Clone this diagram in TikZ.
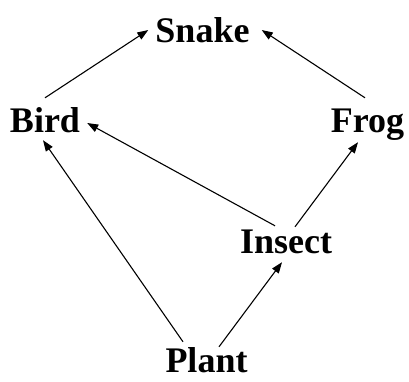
\documentclass[tikz,border=0pt]{standalone}
\usepackage{fontspec}
\setmainfont{Liberation Serif}
\usetikzlibrary{arrows.meta}
\begin{document}
\begin{tikzpicture}[x=1pt,y=-1pt,
  lbl/.style={font=\fontsize{36}{40}\selectfont\bfseries, inner sep=3pt, text height=24pt, text depth=8pt, anchor=base},
  edge/.style={-{Triangle[length=11pt,width=8pt]}, line width=1.1pt}]
\useasboundingbox (0,0) rectangle (409,381);
\node[lbl] (snake)  at (202.5,42) {Snake};
\node[lbl] (bird)   at (45,132)   {Bird};
\node[lbl] (frog)   at (367.5,132) {Frog};
\node[lbl] (insect) at (286,253)  {Insect};
\node[lbl, text depth=0pt, inner ysep=1pt] (plant)  at (206.5,372) {Plant};
\draw[edge] ([yshift=7pt]bird.north) -- ([shift={(-4pt,4pt)}]snake.west);
\draw[edge] ([shift={(-2.5pt,7pt)}]frog.north) -- ([shift={(9pt,4pt)}]snake.east);
\draw[edge] ([xshift=-11pt]insect.north) -- ([shift={(4pt,1pt)}]bird.east);
\draw[edge] ([shift={(9pt,-1pt)}]insect.north) -- ([shift={(-9.5pt,1pt)}]frog.south);
\draw[edge] ([shift={(-23.5pt,5pt)}]plant.north) -- ([shift={(-2pt,3pt)}]bird.south);
\draw[edge] ([shift={(12.5pt,0pt)}]plant.north) -- ([shift={(-4pt,2pt)}]insect.south);
\end{tikzpicture}
\end{document}
